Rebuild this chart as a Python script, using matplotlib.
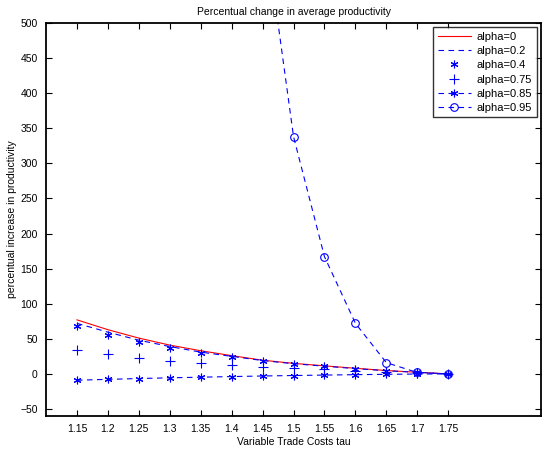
import matplotlib
matplotlib.use("Agg")
import matplotlib.pyplot as plt

plt.rcParams['font.family'] = ['Liberation Sans', 'DejaVu Sans']

# trade cost grid
tau = [1.15, 1.2, 1.25, 1.3, 1.35, 1.4, 1.45, 1.5, 1.55, 1.6, 1.65, 1.7, 1.75]

# percentual increase in productivity
a0 = [77, 63, 51, 41, 33, 26, 19.5, 15, 11.5, 8, 4.8, 2.3, 0]
a02 = [72, 59.5, 48, 39, 31, 25, 19, 14.5, 11, 7.5, 4.5, 2.2, 0]
a04 = [68.5, 56, 45, 37, 29.5, 24, 18.5, 14, 10.8, 7, 4.2, 2, 0]
a075 = [34, 28.5, 23, 19, 15, 12.5, 10.5, 8.5, 6.5, 4.8, 3.2, 1.5, 0]
a085 = [-9, -7.8, -6.6, -5.6, -4.7, -3.8, -3, -2.3, -1.7, -1.1, -0.6, -0.2, 0]
a095 = [22000, 13000, 7500, 4200, 2300, 1250, 660, 338, 167, 72, 16, 2, 0]

xticks = [1.15, 1.2, 1.25, 1.3, 1.35, 1.4, 1.45, 1.5, 1.55, 1.6, 1.65, 1.7, 1.75]
xticklabels = ['1.15', '1.2', '1.25', '1.3', '1.35', '1.4', '1.45', '1.5',
               '1.55', '1.6', '1.65', '1.7', '1.75']

asterisk = (6, 2, 0)

fig = plt.figure(figsize=(5.44, 4.51), dpi=100)
ax = fig.add_axes([0.0846, 0.0776, 0.91, 0.8714])

ax.plot(tau, a0, '-', color='r', lw=0.8, label='alpha=0')
ax.plot(tau, a02, '--', color='b', lw=0.8, dashes=(5, 4), label='alpha=0.2')
ax.plot(tau, a04, ls='none', marker=asterisk, color='b', ms=5.5, mew=0.8,
        label='alpha=0.4')
ax.plot(tau, a075, ls='none', marker='+', color='b', ms=6.5, mew=0.8,
        label='alpha=0.75')
ax.plot(tau, a085, '--', color='b', lw=0.8, dashes=(5, 4), marker=asterisk,
        ms=5.5, mew=0.8, label='alpha=0.85')
ax.plot(tau, a095, '--', color='b', lw=0.8, dashes=(5, 4), marker='o',
        ms=5.5, mfc='none', mew=0.8, label='alpha=0.95')

ax.set_xlim(1.1, 1.9)
ax.set_ylim(-60, 500)
ax.set_xticks(xticks)
ax.set_xticklabels(xticklabels)
ax.set_yticks(range(-50, 501, 50))
ax.tick_params(direction='in', top=True, right=True, labelsize=7.5, length=4,
               width=0.8, pad=6)
for s in ax.spines.values():
    s.set_linewidth(1.3)

ax.set_title('Percentual change in average productivity', fontsize=7.5, pad=6)
ax.set_xlabel('Variable Trade Costs tau', fontsize=7.5, labelpad=2)
ax.set_ylabel('percentual increase in productivity', fontsize=7.5, labelpad=2)

leg = ax.legend(loc='upper right', fontsize=8, frameon=True, fancybox=False,
                edgecolor='k', handlelength=3.0, borderaxespad=0.4,
                labelspacing=0.38, borderpad=0.4, handletextpad=0.5)
leg.get_frame().set_linewidth(1.0)

fig.savefig('out.png', dpi=100)
